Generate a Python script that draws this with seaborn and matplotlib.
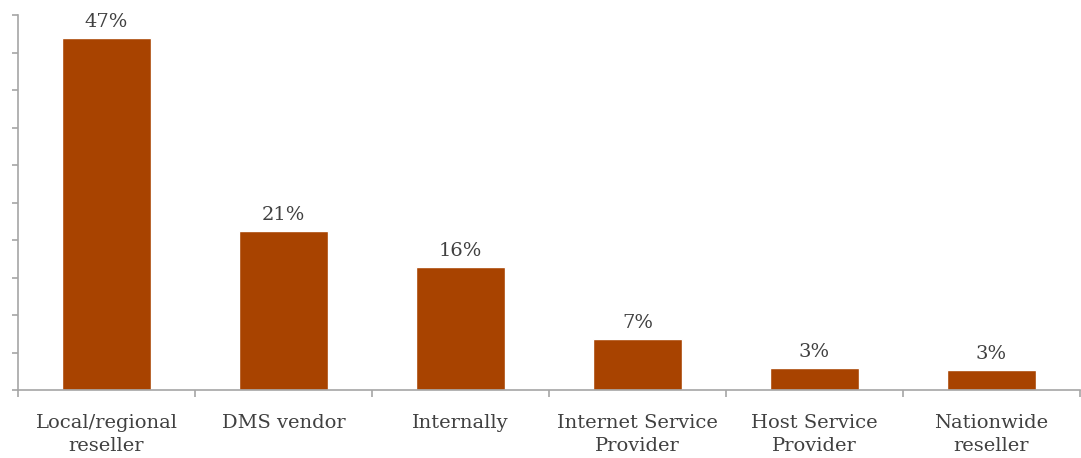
import matplotlib
matplotlib.use("Agg")
import matplotlib.pyplot as plt
import seaborn as sns
import pandas as pd
from matplotlib.ticker import MultipleLocator, FixedLocator

# Who manages the systems (share of respondents, %)
categories = [
    "Local/regional\nreseller",
    "DMS vendor",
    "Internally",
    "Internet Service\nProvider",
    "Host Service\nProvider",
    "Nationwide\nreseller",
]
shares = [47.0, 21.2, 16.4, 6.8, 2.9, 2.7]

df = pd.DataFrame({"category": categories, "share": shares})

sns.set_style("white")
plt.rcParams["font.family"] = ["DejaVu Serif"]

fig = plt.figure(figsize=(10.81, 4.58), dpi=100)
ax = fig.add_axes([18 / 1081, 68 / 458, 1062 / 1081, 375 / 458])

bar_color = "#A84300"
sns.barplot(data=df, x="category", y="share", color=bar_color, width=0.5,
            saturation=1, ax=ax)

ax.set_ylim(0, 50)
ax.set_xlim(-0.5, len(categories) - 0.5)
ax.yaxis.set_major_locator(MultipleLocator(5))
ax.set_yticklabels([])
ax.set_xlabel("")
ax.set_ylabel("")

spine_color = "#A6A6A6"
text_color = "#404040"
for side in ("top", "right"):
    ax.spines[side].set_visible(False)
for side in ("left", "bottom"):
    ax.spines[side].set_color(spine_color)
    ax.spines[side].set_linewidth(1.2)

ax.tick_params(axis="y", which="major", left=True, direction="out", length=4,
               width=1.2, color=spine_color)
# category boundaries carry the tick marks; labels sit under bar centres
ax.xaxis.set_minor_locator(FixedLocator([i - 0.5 for i in range(len(categories) + 1)]))
ax.tick_params(axis="x", which="minor", bottom=True, direction="out", length=5,
               width=1.2, color=spine_color)
ax.tick_params(axis="x", which="major", length=0, pad=17, labelsize=14,
               labelcolor=text_color)
for lbl in ax.get_xticklabels():
    lbl.set_linespacing(1.4)
    lbl.set_verticalalignment("top")

for i, v in enumerate(shares):
    ax.annotate(f"{v:.0f}%", (i, v), xytext=(0, 5), textcoords="offset points",
                ha="center", va="bottom", fontsize=14, color=text_color)

fig.savefig("out.png", dpi=100, facecolor="white")
